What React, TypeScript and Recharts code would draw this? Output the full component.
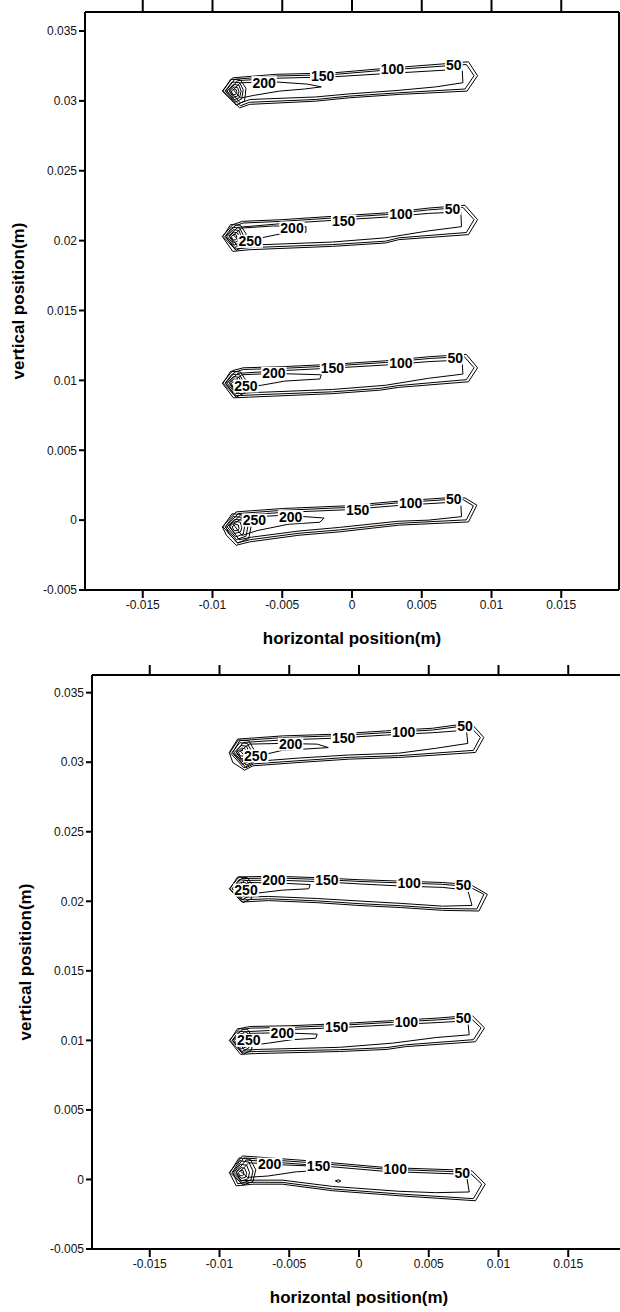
import { ComposedChart, Line, Scatter, XAxis, YAxis } from "recharts";

// all contour points in millimetres, converted to metres for the axes
const xTicks = [-0.015, -0.01, -0.005, 0, 0.005, 0.01, 0.015];
const yTicks = [-0.005, 0, 0.005, 0.01, 0.015, 0.02, 0.025, 0.03, 0.035];

// ---- upper panel ----
const topA = [
  [[-9.3,30.7],[-8.55,31.65],[-5.45,31.9],[-1.4,32.0],[2.4,32.33],[6.7,32.66],[8.35,32.8],[9.0,31.8],[8.25,30.7],[3.35,30.46],[-0.2,30.22],[-2.6,29.98],[-7.35,29.75],[-8.05,29.5],[-9.3,30.7]],
  [[-9.05,30.7],[-8.4,31.55],[-5.4,31.78],[-1.4,31.88],[2.4,32.2],[6.7,32.5],[8.2,32.6],[8.75,31.8],[8.1,30.85],[3.35,30.58],[-0.2,30.34],[-2.6,30.1],[-7.35,29.9],[-8.0,29.65],[-9.05,30.7]],
  [[-8.8,30.75],[-8.2,31.45],[-5.4,31.62],[-1.4,31.72],[2.4,31.95],[6.7,32.2],[7.9,32.25],[7.95,31.3],[6.0,31.0],[3.3,30.75],[-0.2,30.5],[-2.6,30.28],[-7.3,30.1],[-8.0,29.85],[-8.8,30.75]],
  [[-8.5,30.8],[-8.0,31.3],[-5.4,31.35],[-3.2,31.2],[-2.2,31.0],[-3.4,30.85],[-5.2,30.7],[-7.0,30.4],[-8.0,30.2],[-8.5,30.8]],
  [[-9.25,30.7],[-8.7,31.55],[-8.0,31.5],[-7.6,30.9],[-7.7,30.0],[-8.3,29.7],[-9.25,30.7]],
  [[-9.1,30.7],[-8.6,31.35],[-8.05,31.3],[-7.8,30.8],[-7.9,30.15],[-8.4,29.9],[-9.1,30.7]],
  [[-8.95,30.7],[-8.5,31.18],[-8.1,31.12],[-7.95,30.7],[-8.05,30.25],[-8.45,30.08],[-8.95,30.7]],
  [[-8.8,30.7],[-8.45,31.0],[-8.2,30.95],[-8.1,30.65],[-8.2,30.35],[-8.5,30.25],[-8.8,30.7]],
  [[-8.65,30.7],[-8.45,30.85],[-8.3,30.8],[-8.25,30.6],[-8.35,30.45],[-8.55,30.45],[-8.65,30.7]],
];
const topB = [
  [[-9.3,20.3],[-8.55,21.14],[-7.85,21.38],[-5.0,21.5],[-1.4,21.74],[2.4,21.98],[5.5,22.33],[8.1,22.53],[9.0,21.5],[8.35,20.43],[3.35,20.07],[2.4,19.83],[-1.4,19.59],[-7.35,19.35],[-8.55,19.23],[-9.3,20.3]],
  [[-9.05,20.3],[-8.4,21.05],[-7.8,21.26],[-5.0,21.38],[-1.4,21.62],[2.4,21.86],[5.5,22.2],[7.95,22.38],[8.75,21.5],[8.2,20.58],[3.35,20.2],[2.4,19.96],[-1.4,19.72],[-7.3,19.5],[-8.4,19.4],[-9.05,20.3]],
  [[-8.8,20.35],[-8.2,20.95],[-5.0,21.22],[-1.4,21.45],[2.4,21.68],[5.5,21.95],[7.8,22.05],[7.85,21.0],[5.5,20.7],[2.4,20.2],[-1.4,19.9],[-7.2,19.68],[-8.2,19.6],[-8.8,20.35]],
  [[-8.5,20.4],[-7.9,20.9],[-5.6,21.05],[-3.3,21.0],[-3.3,20.6],[-4.8,20.55],[-6.5,20.2],[-8.0,19.9],[-8.5,20.4]],
  [[-9.25,20.3],[-8.7,21.15],[-8.0,21.1],[-7.6,20.5],[-7.7,19.6],[-8.3,19.3],[-9.25,20.3]],
  [[-9.1,20.3],[-8.6,20.95],[-8.05,20.9],[-7.8,20.4],[-7.9,19.75],[-8.4,19.5],[-9.1,20.3]],
  [[-8.95,20.3],[-8.5,20.78],[-8.1,20.72],[-7.95,20.3],[-8.05,19.85],[-8.45,19.68],[-8.95,20.3]],
  [[-8.8,20.3],[-8.45,20.6],[-8.2,20.55],[-8.1,20.25],[-8.2,19.95],[-8.5,19.85],[-8.8,20.3]],
  [[-8.65,20.3],[-8.45,20.45],[-8.3,20.4],[-8.25,20.2],[-8.35,20.05],[-8.55,20.05],[-8.65,20.3]],
];
const topC = [
  [[-9.3,9.8],[-8.55,10.7],[-7.8,10.9],[-5.0,10.98],[-1.4,11.15],[2.4,11.4],[5.6,11.7],[8.2,11.85],[9.0,10.9],[8.35,9.9],[3.35,9.5],[2.0,9.3],[-1.4,9.05],[-7.4,8.8],[-8.5,8.75],[-9.3,9.8]],
  [[-9.05,9.8],[-8.4,10.6],[-7.8,10.78],[-5.0,10.86],[-1.4,11.03],[2.4,11.28],[5.6,11.57],[8.05,11.7],[8.75,10.9],[8.2,10.05],[3.35,9.63],[2.0,9.43],[-1.4,9.18],[-7.35,8.95],[-8.4,8.9],[-9.05,9.8]],
  [[-8.8,9.85],[-8.2,10.5],[-5.0,10.7],[-1.4,10.88],[2.4,11.1],[5.6,11.35],[7.9,11.45],[7.95,10.45],[5.5,10.15],[2.4,9.65],[-1.4,9.35],[-7.2,9.12],[-8.2,9.05],[-8.8,9.85]],
  [[-8.5,9.9],[-7.9,10.4],[-5.6,10.5],[-2.2,10.4],[-2.3,10.1],[-4.8,9.95],[-6.5,9.65],[-8.0,9.4],[-8.5,9.9]],
  [[-9.25,9.8],[-8.7,10.65],[-8.0,10.6],[-7.6,10.0],[-7.7,9.1],[-8.3,8.8],[-9.25,9.8]],
  [[-9.1,9.8],[-8.6,10.45],[-8.05,10.4],[-7.8,9.9],[-7.9,9.25],[-8.4,9.0],[-9.1,9.8]],
  [[-8.95,9.8],[-8.5,10.28],[-8.1,10.22],[-7.95,9.8],[-8.05,9.35],[-8.45,9.18],[-8.95,9.8]],
  [[-8.8,9.8],[-8.45,10.1],[-8.2,10.05],[-8.1,9.75],[-8.2,9.45],[-8.5,9.35],[-8.8,9.8]],
  [[-8.65,9.8],[-8.45,9.95],[-8.3,9.9],[-8.25,9.7],[-8.35,9.55],[-8.55,9.55],[-8.65,9.8]],
];
const topD = [
  [[-9.3,-0.48],[-8.3,0.59],[-5.0,0.83],[-0.45,1.02],[3.35,1.36],[6.7,1.59],[8.1,1.59],[8.95,1.07],[8.35,-0.13],[3.35,-0.36],[-0.9,-0.84],[-3.8,-1.08],[-7.35,-1.56],[-8.3,-1.8],[-9.0,-1.08],[-9.3,-0.48]],
  [[-9.05,-0.48],[-8.15,0.47],[-5.0,0.7],[-0.45,0.9],[3.35,1.24],[6.7,1.46],[8.0,1.45],[8.7,1.02],[8.2,0.02],[3.35,-0.23],[-0.9,-0.7],[-3.8,-0.94],[-7.3,-1.4],[-8.2,-1.62],[-8.8,-1.0],[-9.05,-0.48]],
  [[-8.8,-0.4],[-8.0,0.35],[-5.0,0.55],[-0.45,0.74],[3.35,1.05],[6.7,1.25],[7.8,1.2],[7.85,0.25],[5.5,0.0],[3.3,-0.08],[-0.9,-0.52],[-3.8,-0.78],[-7.2,-1.22],[-8.1,-1.4],[-8.8,-0.4]],
  [[-8.5,-0.3],[-7.8,0.2],[-4.8,0.35],[-2.0,0.15],[-2.3,-0.15],[-4.6,-0.3],[-6.8,-0.75],[-7.9,-1.1],[-8.5,-0.3]],
  [[-9.25,-0.48],[-8.6,0.45],[-7.7,0.4],[-7.2,-0.3],[-7.4,-1.3],[-8.2,-1.65],[-9.25,-0.48]],
  [[-9.1,-0.48],[-8.5,0.25],[-7.8,0.2],[-7.45,-0.4],[-7.6,-1.15],[-8.3,-1.4],[-9.1,-0.48]],
  [[-8.95,-0.48],[-8.4,0.05],[-7.9,0.0],[-7.7,-0.5],[-7.8,-1.0],[-8.35,-1.2],[-8.95,-0.48]],
  [[-8.8,-0.48],[-8.35,-0.1],[-8.0,-0.15],[-7.9,-0.55],[-8.0,-0.85],[-8.4,-0.95],[-8.8,-0.48]],
  [[-8.6,-0.48],[-8.35,-0.3],[-8.15,-0.35],[-8.1,-0.6],[-8.2,-0.75],[-8.45,-0.75],[-8.6,-0.48]],
];
const topLabels = [
  { x: 7.3, y: 32.6, t: "50" }, { x: 2.9, y: 32.25, t: "100" }, { x: -2.1, y: 31.8, t: "150" }, { x: -6.3, y: 31.3, t: "200" },
  { x: 7.2, y: 22.3, t: "50" }, { x: 3.5, y: 21.9, t: "100" }, { x: -0.6, y: 21.4, t: "150" }, { x: -4.3, y: 20.9, t: "200" }, { x: -7.3, y: 19.95, t: "250" },
  { x: 7.4, y: 11.6, t: "50" }, { x: 3.5, y: 11.25, t: "100" }, { x: -1.4, y: 10.9, t: "150" }, { x: -5.6, y: 10.5, t: "200" }, { x: -7.6, y: 9.6, t: "250" },
  { x: 7.3, y: 1.5, t: "50" }, { x: 4.2, y: 1.2, t: "100" }, { x: 0.4, y: 0.75, t: "150" }, { x: -4.4, y: 0.25, t: "200" }, { x: -7.0, y: 0.0, t: "250" },
];

// ---- lower panel ----
const botA = [
  [[-9.3,30.7],[-8.7,31.66],[-5.5,31.89],[-1.9,32.01],[1.9,32.25],[5.25,32.44],[7.4,32.73],[8.1,32.73],[8.95,31.78],[8.35,30.7],[2.85,30.34],[-0.7,30.22],[-4.3,29.98],[-7.6,29.74],[-8.2,29.43],[-9.05,29.98],[-9.3,30.7]],
  [[-9.05,30.7],[-8.55,31.55],[-5.5,31.77],[-1.9,31.89],[1.9,32.12],[5.25,32.31],[7.3,32.58],[7.95,32.58],[8.7,31.78],[8.2,30.85],[2.85,30.47],[-0.7,30.35],[-4.3,30.11],[-7.55,29.88],[-8.1,29.6],[-9.05,30.7]],
  [[-8.8,30.75],[-8.3,31.42],[-5.5,31.6],[-1.9,31.72],[1.9,31.95],[5.25,32.12],[7.7,32.3],[7.8,31.35],[5.5,31.0],[2.85,30.65],[-0.7,30.52],[-4.3,30.3],[-7.5,30.05],[-8.1,29.8],[-8.8,30.75]],
  [[-8.5,30.8],[-7.9,31.3],[-5.6,31.35],[-3.0,31.3],[-2.2,31.05],[-3.8,30.95],[-5.5,30.85],[-7.0,30.5],[-8.0,30.25],[-8.5,30.8]],
  [[-9.25,30.7],[-8.65,31.6],[-7.9,31.55],[-7.5,30.85],[-7.6,29.95],[-8.25,29.6],[-9.25,30.7]],
  [[-9.1,30.7],[-8.55,31.4],[-8.0,31.35],[-7.7,30.8],[-7.8,30.1],[-8.35,29.85],[-9.1,30.7]],
  [[-8.95,30.7],[-8.45,31.2],[-8.05,31.15],[-7.9,30.7],[-8.0,30.2],[-8.4,30.05],[-8.95,30.7]],
  [[-8.8,30.7],[-8.4,31.02],[-8.15,30.95],[-8.05,30.65],[-8.15,30.32],[-8.45,30.22],[-8.8,30.7]],
  [[-8.65,30.7],[-8.42,30.86],[-8.25,30.8],[-8.2,30.6],[-8.3,30.45],[-8.5,30.44],[-8.65,30.7]],
];
const botB = [
  [[-9.3,20.9],[-8.6,21.75],[-6.0,21.8],[-3.0,21.7],[0.0,21.55],[3.0,21.45],[6.0,21.35],[8.0,21.2],[9.2,20.5],[8.6,19.3],[6.0,19.35],[3.0,19.55],[0.0,19.7],[-3.0,19.9],[-6.5,20.05],[-8.4,19.95],[-9.3,20.9]],
  [[-9.05,20.9],[-8.45,21.63],[-6.0,21.68],[-3.0,21.58],[0.0,21.43],[3.0,21.32],[6.0,21.22],[7.9,21.05],[8.95,20.5],[8.45,19.45],[6.0,19.48],[3.0,19.68],[0.0,19.83],[-3.0,20.03],[-6.5,20.18],[-8.3,20.1],[-9.05,20.9]],
  [[-8.8,20.95],[-8.2,21.5],[-6.0,21.52],[-3.0,21.42],[0.0,21.25],[3.0,21.1],[6.0,21.0],[7.8,20.8],[8.1,19.7],[6.0,19.65],[3.0,19.85],[0.0,20.02],[-3.0,20.2],[-6.5,20.35],[-8.2,20.3],[-8.8,20.95]],
  [[-8.5,21.0],[-7.9,21.35],[-5.5,21.3],[-3.5,21.2],[-3.6,20.9],[-5.5,20.8],[-7.2,20.6],[-8.1,20.5],[-8.5,21.0]],
  [[-9.25,20.9],[-8.7,21.75],[-8.0,21.7],[-7.6,21.1],[-7.7,20.2],[-8.3,19.9],[-9.25,20.9]],
  [[-9.1,20.9],[-8.6,21.55],[-8.05,21.5],[-7.8,21.0],[-7.9,20.35],[-8.4,20.1],[-9.1,20.9]],
  [[-8.95,20.9],[-8.5,21.38],[-8.1,21.32],[-7.95,20.9],[-8.05,20.45],[-8.45,20.28],[-8.95,20.9]],
  [[-8.8,20.9],[-8.45,21.2],[-8.2,21.15],[-8.1,20.85],[-8.2,20.55],[-8.5,20.45],[-8.8,20.9]],
  [[-8.65,20.9],[-8.45,21.05],[-8.3,21.0],[-8.25,20.8],[-8.35,20.65],[-8.55,20.65],[-8.65,20.9]],
];
const botC = [
  [[-9.3,10.0],[-8.55,10.85],[-7.8,11.0],[-5.0,11.05],[-1.4,11.2],[2.4,11.42],[5.6,11.6],[8.1,11.8],[9.0,10.9],[8.35,9.9],[3.35,9.55],[2.0,9.35],[-1.4,9.2],[-7.4,9.05],[-8.5,9.0],[-9.3,10.0]],
  [[-9.05,10.0],[-8.4,10.75],[-7.8,10.88],[-5.0,10.93],[-1.4,11.08],[2.4,11.3],[5.6,11.47],[7.95,11.65],[8.75,10.9],[8.2,10.05],[3.35,9.68],[2.0,9.48],[-1.4,9.33],[-7.35,9.2],[-8.4,9.15],[-9.05,10.0]],
  [[-8.8,10.05],[-8.2,10.62],[-5.0,10.78],[-1.4,10.92],[2.4,11.12],[5.6,11.28],[7.8,11.4],[7.9,10.4],[5.5,10.2],[2.4,9.8],[-1.4,9.5],[-7.2,9.35],[-8.2,9.3],[-8.8,10.05]],
  [[-8.5,10.1],[-7.9,10.5],[-5.6,10.55],[-3.0,10.45],[-3.1,10.15],[-4.8,10.05],[-6.5,9.8],[-8.0,9.6],[-8.5,10.1]],
  [[-9.25,10.0],[-8.7,10.85],[-8.0,10.8],[-7.6,10.2],[-7.7,9.3],[-8.3,9.0],[-9.25,10.0]],
  [[-9.1,10.0],[-8.6,10.65],[-8.05,10.6],[-7.8,10.1],[-7.9,9.45],[-8.4,9.2],[-9.1,10.0]],
  [[-8.95,10.0],[-8.5,10.48],[-8.1,10.42],[-7.95,10.0],[-8.05,9.55],[-8.45,9.38],[-8.95,10.0]],
  [[-8.8,10.0],[-8.45,10.3],[-8.2,10.25],[-8.1,9.95],[-8.2,9.65],[-8.5,9.55],[-8.8,10.0]],
  [[-8.65,10.0],[-8.45,10.15],[-8.3,10.1],[-8.25,9.9],[-8.35,9.75],[-8.55,9.75],[-8.65,10.0]],
];
const botD = [
  [[-9.3,0.5],[-8.35,1.69],[-3.55,1.34],[1.9,0.86],[6.9,0.69],[8.1,0.62],[9.05,-0.34],[8.35,-1.53],[2.85,-1.17],[-1.9,-0.81],[-5.5,-0.34],[-7.6,-0.34],[-8.8,-0.46],[-9.3,0.5]],
  [[-9.05,0.5],[-8.25,1.55],[-3.55,1.21],[1.9,0.74],[6.9,0.56],[7.95,0.48],[8.8,-0.34],[8.2,-1.38],[2.85,-1.04],[-1.9,-0.68],[-5.5,-0.21],[-7.6,-0.2],[-8.7,-0.3],[-9.05,0.5]],
  [[-8.8,0.55],[-8.1,1.4],[-3.55,1.05],[1.9,0.58],[6.9,0.4],[7.7,0.35],[7.9,-0.9],[5.5,-0.95],[2.85,-0.85],[-1.9,-0.5],[-5.5,-0.05],[-7.6,-0.05],[-8.5,-0.1],[-8.8,0.55]],
  [[-8.5,0.6],[-7.9,1.2],[-5.5,1.05],[-3.0,0.95],[-2.8,0.65],[-4.5,0.55],[-6.5,0.25],[-8.0,0.15],[-8.5,0.6]],
  [[-1.7,-0.1],[-1.45,-0.02],[-1.3,-0.12],[-1.5,-0.2],[-1.7,-0.1]],
  [[-9.25,0.5],[-8.6,1.55],[-7.8,1.45],[-7.4,0.7],[-7.6,-0.15],[-8.3,-0.4],[-9.25,0.5]],
  [[-9.1,0.5],[-8.55,1.35],[-7.9,1.25],[-7.6,0.6],[-7.75,-0.05],[-8.35,-0.25],[-9.1,0.5]],
  [[-8.95,0.5],[-8.5,1.1],[-8.05,1.02],[-7.85,0.5],[-7.95,0.05],[-8.4,-0.1],[-8.95,0.5]],
  [[-8.8,0.5],[-8.45,0.85],[-8.2,0.8],[-8.05,0.45],[-8.15,0.15],[-8.45,0.08],[-8.8,0.5]],
  [[-8.65,0.5],[-8.45,0.68],[-8.3,0.62],[-8.25,0.4],[-8.35,0.27],[-8.55,0.27],[-8.65,0.5]],
];
const botLabels = [
  { x: 7.6, y: 32.6, t: "50" }, { x: 3.2, y: 32.2, t: "100" }, { x: -1.1, y: 31.75, t: "150" }, { x: -4.9, y: 31.3, t: "200" }, { x: -7.4, y: 30.45, t: "250" },
  { x: 7.5, y: 21.15, t: "50" }, { x: 3.6, y: 21.35, t: "100" }, { x: -2.3, y: 21.5, t: "150" }, { x: -6.1, y: 21.55, t: "200" }, { x: -8.1, y: 20.8, t: "250" },
  { x: 7.5, y: 11.6, t: "50" }, { x: 3.4, y: 11.3, t: "100" }, { x: -1.6, y: 10.95, t: "150" }, { x: -5.5, y: 10.5, t: "200" }, { x: -7.9, y: 10.0, t: "250" },
  { x: 7.4, y: 0.5, t: "50" }, { x: 2.6, y: 0.75, t: "100" }, { x: -2.9, y: 1.0, t: "150" }, { x: -6.4, y: 1.1, t: "200" },
];

const FONT = '"Liberation Sans", Arial, sans-serif';
const X_DOMAIN: [number, number] = [-0.01914, 0.01914];

const toM = (c: number[][]) => c.map(([x, y]) => ({ x: x / 1000, y: y / 1000 }));
const fmt = (v: number) => String(Number(v.toFixed(3)));

// contour value printed on a white patch, like the original plot
const ContourLabel = (props: any) => {
  const { cx, cy, payload } = props;
  const w = payload.t.length * 7.8 + 2;
  return (
    <g>
      <rect x={cx - w / 2} y={cy - 6.5} width={w} height={13} fill="#fff" />
      <text x={cx} y={cy} dy="0.36em" textAnchor="middle" fontSize={14} fontWeight="bold" fontFamily={FONT} fill="#000">
        {payload.t}
      </text>
    </g>
  );
};

const NoTick = () => <g />;

interface PanelProps {
  plumes: number[][][][];
  labels: { x: number; y: number; t: string }[];
  yTop: number;
  padTop: number;
  topAxisH: number;
  bottomAxisH: number;
}

const Panel = ({ plumes, labels, yTop, padTop, topAxisH, bottomAxisH }: PanelProps) => {
  const yDomain: [number, number] = [-0.005, yTop];
  const contours = plumes.flat();
  const labelData = labels.map((l) => ({ x: l.x / 1000, y: l.y / 1000, t: l.t }));
  const axisLine = { stroke: "#000", strokeWidth: 2 };
  const tickLine = { stroke: "#000", strokeWidth: 2 };
  const tickText = { fontSize: 12, fill: "#111", fontFamily: FONT };
  return (
    <ComposedChart width={620} height={656} margin={{ top: padTop, right: 0, bottom: 0, left: 0 }}>
      <XAxis
        xAxisId="top"
        orientation="top"
        type="number"
        dataKey="x"
        domain={X_DOMAIN}
        ticks={xTicks}
        allowDataOverflow
        height={topAxisH}
        tick={NoTick}
        tickSize={topAxisH}
        axisLine={axisLine}
        tickLine={tickLine}
      />
      <XAxis
        type="number"
        dataKey="x"
        domain={X_DOMAIN}
        ticks={xTicks}
        allowDataOverflow
        height={bottomAxisH}
        tickSize={8}
        tickFormatter={fmt}
        tick={tickText}
        axisLine={axisLine}
        tickLine={tickLine}
        label={(p: any) => {
          const vb = p.viewBox;
          return (
            <text x={vb.x + vb.width / 2} y={vb.y + 54} textAnchor="middle" fontSize={17} fontWeight="bold" fontFamily={FONT} fill="#000">
              horizontal position(m)
            </text>
          );
        }}
      />
      <YAxis
        type="number"
        dataKey="y"
        domain={yDomain}
        ticks={yTicks}
        allowDataOverflow
        width={85}
        tickSize={6}
        tickFormatter={fmt}
        tick={tickText}
        axisLine={axisLine}
        tickLine={tickLine}
        label={(p: any) => {
          const vb = p.viewBox;
          const cy = vb.y + vb.height / 2;
          return (
            <text x={18} y={cy} transform={`rotate(-90, 18, ${cy})`} textAnchor="middle" dominantBaseline="central" fontSize={17} fontWeight="bold" fontFamily={FONT} fill="#000">
              vertical position(m)
            </text>
          );
        }}
      />
      <YAxis yAxisId="right" orientation="right" type="number" domain={yDomain} allowDataOverflow width={1} tick={false} tickLine={false} axisLine={axisLine} />
      {contours.map((c, i) => (
        <Line
          key={i}
          data={toM(c)}
          dataKey="y"
          type="linear"
          stroke="#000"
          strokeWidth={1}
          dot={false}
          activeDot={false}
          legendType="none"
          isAnimationActive={false}
        />
      ))}
      <Scatter data={labelData} dataKey="y" shape={ContourLabel} isAnimationActive={false} />
    </ComposedChart>
  );
};

export default function App() {
  return (
    <div style={{ position: "absolute", left: 0, top: 0, width: 620, height: 1312, overflow: "hidden", background: "#fff" }}>
      <div style={{ position: "absolute", left: 0, top: 0 }}>
        <Panel plumes={[topA, topB, topC, topD]} labels={topLabels} yTop={0.03636} padTop={0} topAxisH={12} bottomAxisH={66} />
      </div>
      <div style={{ position: "absolute", left: 7, top: 656 }}>
        <Panel plumes={[botA, botB, botC, botD]} labels={botLabels} yTop={0.03627} padTop={9} topAxisH={10} bottomAxisH={63} />
      </div>
    </div>
  );
}
